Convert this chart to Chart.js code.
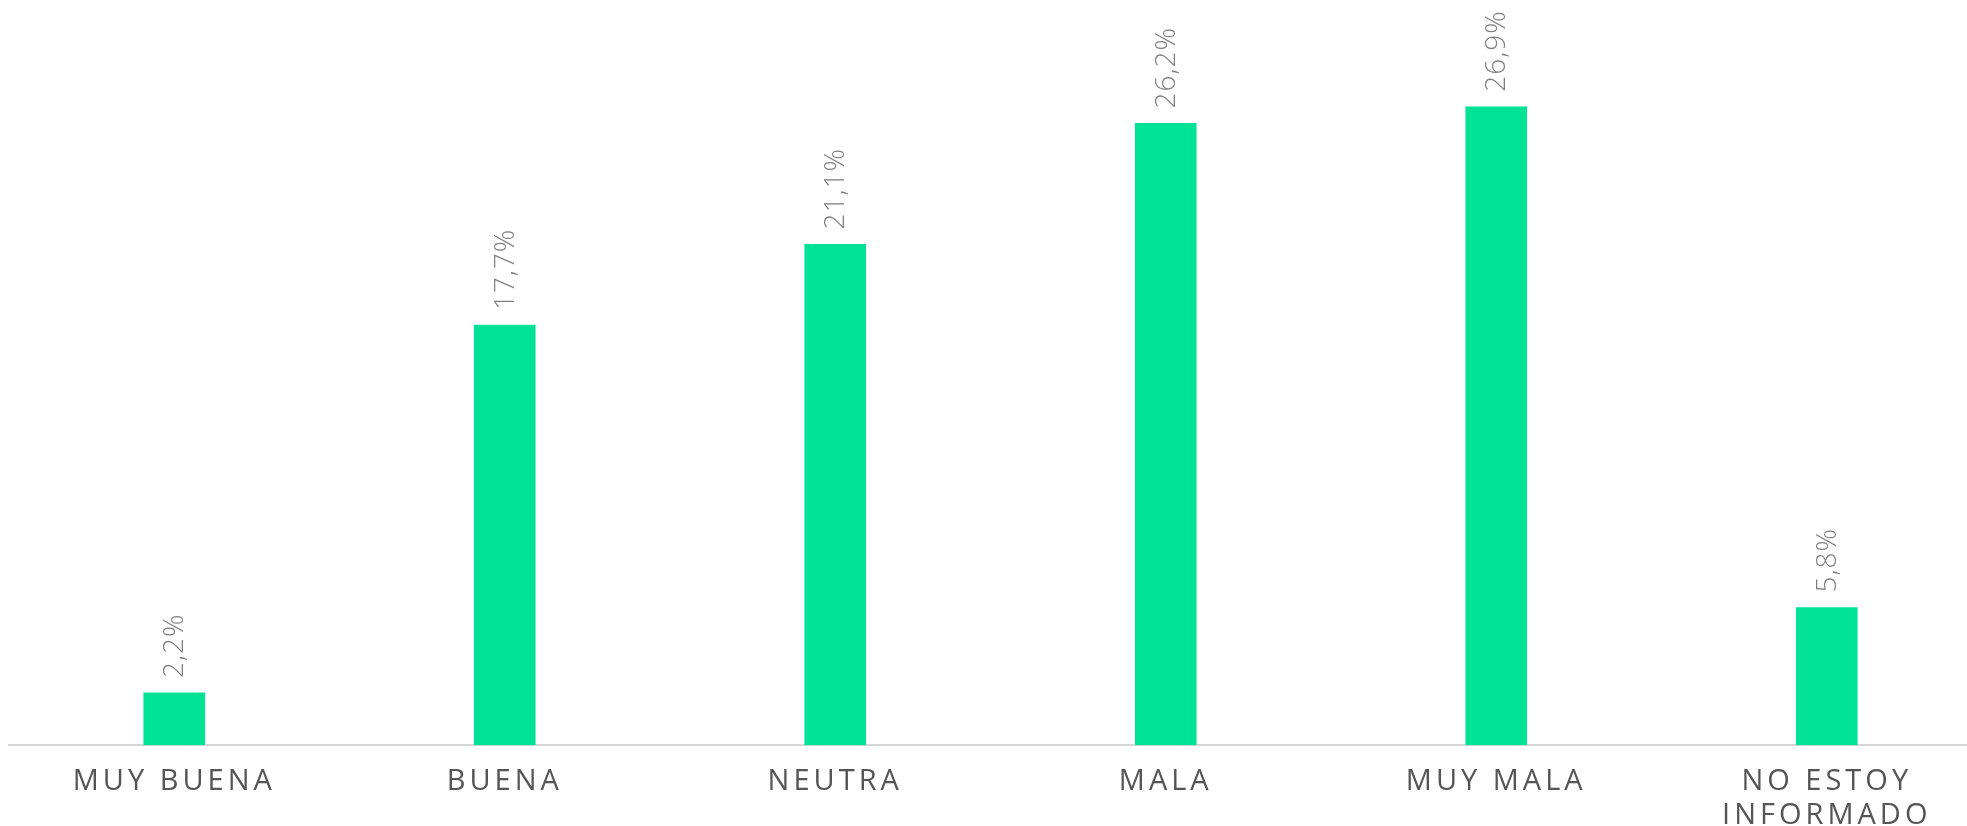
<!DOCTYPE html>
<html>
<head>
<meta charset="utf-8">
<script src="https://cdn.jsdelivr.net/npm/chart.js@4"></script>
<style>
    html, body { margin: 0; padding: 0; background: #fff; overflow: hidden; }
    #contenedor { width: 1992px; height: 845px; }
</style>
</head>
<body>
<div id="contenedor"><canvas id="grafico"></canvas></div>
<script>
const categorias = [['MUY BUENA'], ['BUENA'], ['NEUTRA'], ['MALA'], ['MUY MALA'], ['NO ESTOY', 'INFORMADO']];
const porcentajes = [2.2, 17.7, 21.1, 26.2, 26.9, 5.8];

// espaciado entre letras para las etiquetas del eje
const espaciadoEje = {
    id: 'espaciadoEje',
    beforeDraw(chart) {
        chart.ctx.letterSpacing = '4px';
    },
    afterDraw(chart) {
        chart.ctx.letterSpacing = '0px';
    }
};

// etiquetas de valor giradas sobre cada barra
const etiquetasValor = {
    id: 'etiquetasValor',
    afterDatasetsDraw(chart) {
        const ctx = chart.ctx;
        const meta = chart.getDatasetMeta(0);
        ctx.save();
        ctx.letterSpacing = '1px';
        ctx.font = '300 28px "Open Sans"';
        ctx.fillStyle = '#808080';
        ctx.textAlign = 'left';
        ctx.textBaseline = 'middle';
        meta.data.forEach((barra, i) => {
            const texto = porcentajes[i].toFixed(1).replace('.', ',') + '%';
            ctx.save();
            ctx.translate(barra.x + 1, barra.y - 15);
            ctx.rotate(-Math.PI / 2);
            ctx.fillText(texto, 0, 0);
            ctx.restore();
        });
        ctx.restore();
    }
};

new Chart(document.getElementById('grafico'), {
    type: 'bar',
    data: {
        labels: categorias,
        datasets: [{
            data: porcentajes,
            backgroundColor: '#00E396',
            barThickness: 61
        }]
    },
    options: {
        responsive: true,
        maintainAspectRatio: false,
        animation: false,
        layout: { padding: { left: 9, right: 0, top: 0, bottom: 0 } },
        plugins: {
            legend: { display: false },
            tooltip: { enabled: false }
        },
        scales: {
            x: {
                grid: { display: false },
                border: { display: true, color: '#d6d6d6', width: 2 },
                ticks: {
                    color: '#555555',
                    font: { family: 'Open Sans', size: 29, lineHeight: 1.17 },
                    padding: 12,
                    maxRotation: 0,
                    autoSkip: false
                }
            },
            y: {
                display: false,
                min: 0,
                max: 31.4
            }
        }
    },
    plugins: [espaciadoEje, etiquetasValor]
});
</script>
</body>
</html>
